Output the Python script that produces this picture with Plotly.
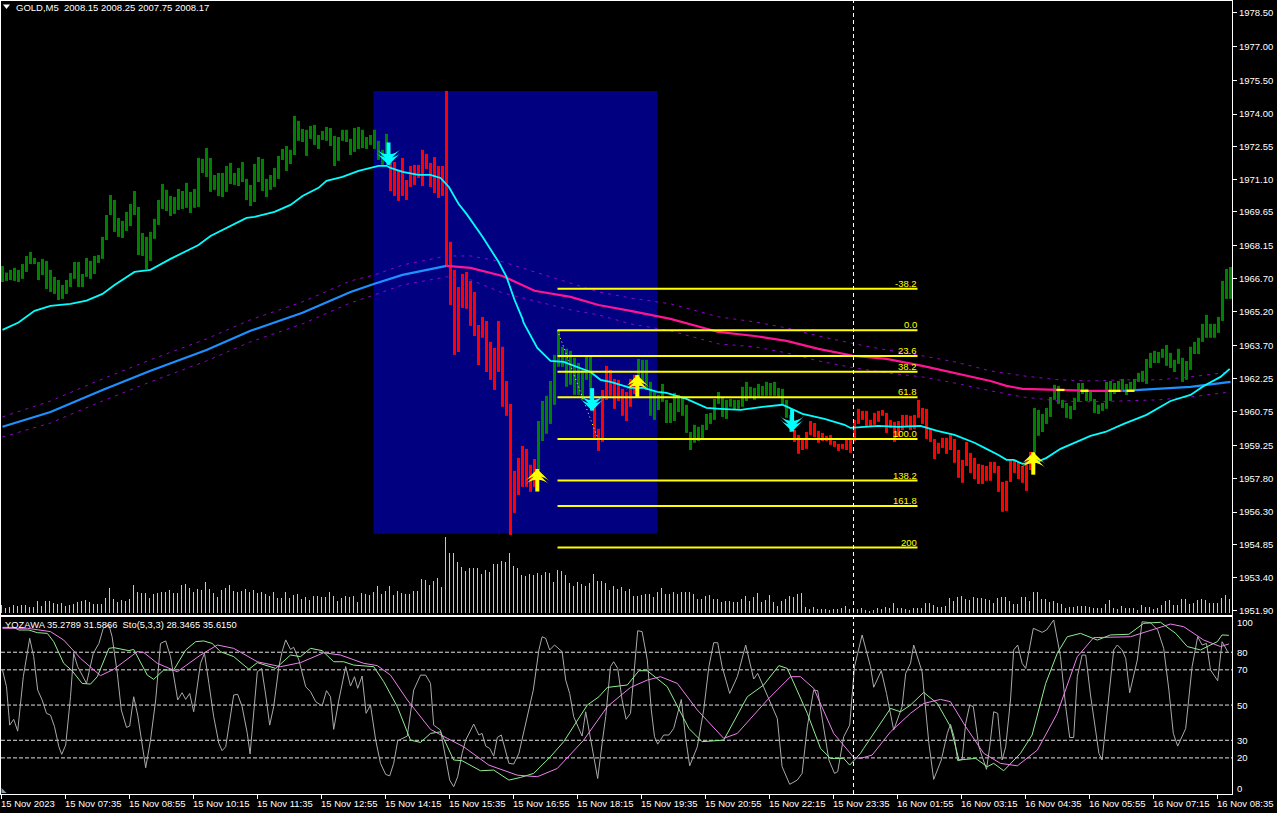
import plotly.graph_objects as go

BAR_HIGH = [1967.24,1966.95,1967.07,1967.16,1967.07,1967.33,1967.69,1967.87,1967.60,1967.42,1967.56,1967.47,1967.07,1966.76,1966.62,1966.40,1966.62,1966.93,1967.42,1967.42,
1966.89,1967.60,1967.47,1967.69,1967.73,1968.54,1969.51,1970.40,1970.18,1969.38,1969.25,1969.65,1970.00,1970.58,1969.87,1968.71,1968.54,1968.76,1969.34,1970.18,
1970.89,1970.63,1970.36,1970.31,1970.67,1970.58,1970.94,1970.54,1970.67,1972.05,1972.01,1972.49,1972.05,1971.29,1971.38,1971.38,1971.69,1971.83,1971.38,1971.60,
1971.87,1971.12,1970.85,1971.78,1972.09,1972.01,1971.12,1971.29,1971.60,1972.14,1972.45,1972.58,1972.41,1973.92,1973.70,1973.34,1973.30,1973.47,1973.52,1973.07,
1973.25,1973.43,1973.38,1973.03,1972.98,1973.30,1973.30,1972.90,1973.38,1973.43,1973.30,1972.98,1973.07,1973.30,1972.81,1972.41,1973.12,
1971.87,1971.87,1971.52,1972.05,1971.07,1971.69,1971.74,1971.74,1972.41,1972.23,1971.83,1972.09,1971.69,1971.69,1975.03,
1968.32,1967.07,1966.31,1966.89,1966.98,1966.58,1966.09,1964.62,1964.98,1964.80,1963.87,1963.60,1964.80,1963.65,1962.13,1961.11,1958.13,1958.71,1959.24,1959.11,1958.40,1958.66,
1960.35,1961.24,1961.47,1962.13,1963.29,1964.36,1963.65,1963.56,1963.47,1963.16,1962.93,1962.62,1963.20,1963.20,
1961.15,1960.00,1961.73,1962.80,1962.62,1962.22,1962.18,1961.78,1961.64,1962.22,1962.40,
1963.11,1963.07,1963.07,1962.09,1961.64,1961.51,1962.00,1961.29,1961.15,1961.60,1961.51,1961.42,1961.07,1959.86,1960.18,1960.09,1960.18,1960.66,1960.71,1961.33,1961.64,1961.38,1961.29,1961.33,
1961.29,1961.29,1961.87,1962.09,1961.87,1961.82,1962.00,1961.91,1962.09,1962.04,1962.09,1961.82,1961.78,1961.29,1960.62,
1959.95,1959.73,1959.51,1959.86,1960.35,1960.26,1959.91,1959.82,1959.69,1959.73,1959.46,1959.33,1959.33,1959.51,1959.51,1960.40,1960.89,1960.80,1960.80,1960.40,1960.71,1960.80,1960.84,1960.71,1960.40,
1960.31,1960.35,1960.62,1960.62,1960.58,1960.62,1961.29,1960.93,1960.89,1960.00,1959.55,1959.38,1959.60,1959.60,1959.73,1959.55,1959.06,1958.62,1959.42,1958.93,1958.71,1958.44,1958.40,1958.35,1958.53,1958.53,1958.35,
1957.64,1957.69,1958.62,1958.62,1958.53,1958.35,1958.62,1958.97,
1960.93,1960.84,1960.66,1960.93,1961.42,1961.96,1961.91,1961.29,1961.15,1961.02,1961.38,1962.04,1962.04,1961.78,1961.69,1961.33,1961.07,1961.15,1962.09,1962.13,1962.04,1962.13,1962.22,1962.00,1962.09,1962.22,
1962.49,1962.58,1963.11,1963.38,1963.47,1963.42,1963.56,1963.73,1963.38,1963.07,1963.56,1963.16,1963.02,1963.65,1963.87,1964.05,1964.67,1965.07,1964.67,1964.67,1964.98,1966.58,1967.11,1967.20]

BAR_LOW = [1966.53,1966.58,1966.62,1966.58,1966.53,1966.67,1966.98,1967.33,1967.33,1966.62,1966.84,1966.22,1966.09,1966.00,1965.73,1965.78,1966.00,1966.31,1966.67,1966.31,
1966.31,1966.76,1966.67,1966.89,1967.38,1967.56,1968.40,1969.51,1968.76,1968.54,1968.49,1968.80,1969.02,1969.51,1967.73,1967.69,1967.11,1967.47,1968.45,1969.07,
1969.78,1969.69,1969.47,1969.56,1969.74,1969.78,1969.83,1969.60,1969.83,1969.87,1971.38,1971.20,1970.54,1970.63,1970.36,1970.31,1970.54,1970.89,1970.85,1970.80,
1970.98,1970.18,1969.91,1970.09,1970.98,1970.58,1970.31,1970.63,1970.76,1971.12,1971.96,1971.47,1971.78,1972.18,1972.81,1972.76,1972.14,1972.90,1972.63,1972.45,
1972.85,1972.81,1972.58,1971.69,1971.92,1972.81,1972.76,1972.18,1972.32,1972.45,1972.49,1972.45,1972.63,1972.45,1971.96,1971.74,1971.96,
1970.58,1970.36,1970.14,1970.36,1970.18,1970.76,1970.85,1971.16,1970.80,1971.56,1970.76,1970.49,1970.27,1970.36,1967.22,
1965.51,1963.29,1963.42,1965.38,1965.34,1964.58,1964.13,1962.84,1964.05,1962.53,1962.18,1961.73,1962.53,1960.98,1960.58,1955.28,1956.26,1957.06,1957.42,1957.42,1957.20,1957.42,
1958.17,1959.46,1959.78,1960.22,1961.07,1962.76,1962.76,1961.87,1961.96,1961.51,1961.51,1961.29,1962.18,1961.29,
1959.60,1959.02,1959.42,1961.29,1961.47,1960.89,1961.24,1960.58,1960.35,1960.98,1961.55,
1961.96,1961.96,1961.73,1960.58,1960.40,1960.84,1961.20,1960.26,1960.26,1960.35,1960.75,1960.58,1959.82,1959.06,1959.38,1959.46,1959.55,1959.95,1960.22,1960.40,1961.11,1960.53,1960.44,1960.98,
1960.84,1960.89,1960.98,1961.24,1961.42,1961.29,1961.42,1961.47,1961.47,1961.47,1961.47,1961.42,1961.11,1960.49,1959.86,
1959.42,1958.89,1959.06,1959.11,1959.73,1959.64,1959.38,1959.46,1959.46,1959.29,1959.20,1959.02,1959.11,1959.06,1958.93,1959.46,1960.22,1960.40,1960.13,1960.13,1960.18,1960.31,1960.58,1959.82,1960.04,
1959.42,1959.64,1959.95,1960.09,1959.95,1960.00,1960.49,1960.22,1959.55,1959.42,1958.66,1958.89,1959.15,1958.89,1959.06,1958.49,1957.82,1957.60,1958.35,1958.04,1957.77,1957.55,1957.55,1957.69,1957.69,1958.04,1957.20,
1956.31,1956.35,1957.64,1958.04,1957.77,1957.60,1957.24,1958.17,
1958.97,1959.69,1959.86,1960.22,1960.53,1961.29,1961.11,1960.93,1960.49,1960.44,1960.84,1961.20,1961.55,1961.24,1961.24,1960.71,1960.66,1960.80,1960.89,1961.24,1961.55,1961.69,1961.73,1961.51,1961.69,1961.73,
1962.09,1962.09,1962.00,1962.71,1962.93,1962.93,1963.16,1962.80,1962.71,1962.53,1962.89,1962.09,1962.18,1962.62,1963.33,1963.33,1963.87,1964.05,1964.05,1964.05,1964.27,1964.80,1965.78,1965.78]

GREEN_RUNS = [(0, 96), (134, 147), (159, 197), (258, 307)]

VOLUME = [8,5,6,8,7,8,8,6,6,12,7,12,12,10,9,10,7,8,9,11,12,13,11,9,9,9,15,25,14,11,13,12,14,28,21,20,20,15,19,20,21,21,23,20,20,28,29,25,21,24,23,31,24,20,16,23,25,28,22,21,
22,24,21,23,20,21,19,17,21,15,15,21,15,18,19,14,16,13,17,17,16,16,21,17,12,15,17,16,17,11,20,19,18,21,27,19,22,27,18,22,20,19,19,22,22,
34,33,28,32,35,26,76,60,60,51,46,42,45,45,45,39,43,41,49,49,52,51,60,47,45,38,37,39,38,40,38,41,40,31,43,42,38,30,27,31,29,27,30,39,32,32,30,23,27,24,26,22,24,17,17,18,19,19,16,21,25,19,19,21,19,21,21,21,19,14,14,17,18,14,14,11,12,12,11,11,14,17,12,16,20,11,13,18,11,7,12,14,17,16,19,20,6,4,6,4,4,4,3,
4,4,5,7,4,5,4,5,3,2,3,5,4,6,5,10,5,5,4,3,5,5,5,10,10,8,6,6,7,15,12,16,17,14,13,16,15,15,14,13,10,15,16,16,12,9,9,16,16,12,21,21,14,14,11,12,10,9,5,6,6,7,7,7,6,5,5,5,9,13,5,4,7,5,5,5,3,8,6,6,4,5,8,12,13,8,8,14,14,9,10,13,14,13,10,10,10,15,18,14]

FAST_X = [0,4,8,12,17,21,25,28,33,37,42,47,49,52,57,61,63,68,72,75,79,81,85,89,94,96,97,100,104,107,109.5,111.6,114,116,120,124,126,128,130,130.3,133.7,137,140.3,144.5,147,149.5,152,157,160.3,163.7,166,171,176,179.5,184.5,190,195,200,205.5,210.5,212,219,224,229.5,233.7,238,243,246,249,251,252.8,255,258.7,261,264.5,272,275.7,280.3,286,292,297,300.3,304.5,306.8]
FAST_Y = [1964.40,1964.73,1965.25,1965.47,1965.56,1965.70,1966.00,1966.40,1966.98,1967.07,1967.56,1968.00,1968.18,1968.58,1969.03,1969.38,1969.43,1969.65,1969.96,1970.36,1970.72,1971.03,1971.21,1971.47,1971.70,1971.70,1971.61,1971.43,1971.30,1971.30,1971.16,1970.76,1970.01,1969.56,1968.54,1967.43,1966.76,1965.74,1964.89,1964.71,1963.60,1963.02,1962.98,1962.71,1962.53,1962.18,1962.09,1961.82,1961.82,1961.64,1961.60,1961.33,1960.93,1960.89,1960.84,1960.98,1961.07,1960.67,1960.44,1960.18,1960.04,1960.13,1960.09,1960.13,1959.91,1959.73,1959.38,1959.11,1958.84,1958.62,1958.62,1958.44,1958.53,1958.71,1959.11,1959.69,1959.86,1960.22,1960.62,1961.24,1961.51,1961.91,1962.31,1962.67]

SLOW_X = [0,12,25,37,51,62,75,87,93,100,111,117,125,133,142,149,157,167,179,188,196,204,213,221,230,238,247,251,255,264,272,280,289,297,307]
SLOW_Y = [1960.09,1960.75,1961.73,1962.58,1963.51,1964.36,1965.16,1966.09,1966.45,1966.85,1967.25,1967.16,1966.80,1966.14,1965.87,1965.51,1965.25,1964.89,1964.31,1964.13,1963.91,1963.56,1963.24,1963.11,1962.80,1962.49,1962.13,1961.91,1961.78,1961.73,1961.69,1961.69,1961.78,1961.87,1962.09]
SLOW_PINK_FROM, SLOW_PINK_TO = 111, 280
FLAT_X = [263.5,265.5,None,269.5,271.5,None,276.5,279.5,None,281,283]
FLAT_Y = [1961.73,1961.73,None,1961.69,1961.69,None,1961.69,1961.69,None,1961.69,1961.69]

ENV_X = [0,12,25,37,51,62,75,87,93,100,111,117,125,133,142,149,157,167,179,188,196,204,213,221,230,238,247,255,264,272,280,289,297,307]
ENV_UP = [1960.53,1961.24,1962.22,1963.07,1964.00,1964.85,1965.65,1966.58,1966.85,1967.29,1967.69,1967.69,1967.43,1966.98,1966.45,1966.09,1965.82,1965.56,1964.98,1964.76,1964.49,1964.13,1963.78,1963.51,1963.25,1962.98,1962.58,1962.36,1962.18,1962.13,1962.18,1962.18,1962.31,1962.53]
ENV_DN = [1959.64,1960.26,1961.24,1962.09,1963.02,1963.87,1964.67,1965.60,1965.96,1966.40,1966.76,1966.63,1966.05,1965.69,1965.29,1965.07,1964.67,1964.36,1963.78,1963.65,1963.38,1963.02,1962.71,1962.49,1962.31,1962.04,1961.69,1961.42,1961.24,1961.20,1961.24,1961.29,1961.42,1961.64]

BOX_X = [92.75, 163.75]
BOX_Y = [1955.33, 1975.03]
FIB_X = [138.75, 228.75]
FIB_LABELS = ["-38.2","0.0","23.6","38.2","61.8","100.0","138.2","161.8","200"]
FIB_PRICES = [1966.23,1964.38,1963.24,1962.54,1961.40,1959.55,1957.70,1956.57,1954.72]
FIB_TREND_X = [138.75, 148.75]
FIB_TREND_Y = [1964.38, 1959.60]
CROSS_X = 212.75

DOWN_X = [96.5, 147.4, 197.4]
DOWN_Y = [1971.74, 1960.81, 1959.88]
UP_X = [133.7, 158.7, 257.7]
UP_Y = [1958.21, 1962.39, 1958.96]

K_X = [0,1,1.8,2.8,3.8,5.2,6.8,7.8,8.8,9.9,11,12,13,14.1,14.8,15.8,17,17.8,18.8,21,22.7,24.1,25.2,26.6,27.4,28.7,29.7,31,31.8,32.8,33.8,34.9,35.8,37,38.3,39.5,40.8,42,43.8,44.9,45.8,46.8,47.8,49.5,50.5,51.6,52.8,54.1,54.9,55.8,57,57.8,58.8,59.9,61.2,61.9,63.7,64.8,65.8,66.8,67.8,69.1,69.9,70.8,72,72.8,74.1,75.8,77,78.3,79.9,81,82,82.8,84.1,85.8,87,88,88.8,89.9,90.9,92,93.3,94.5,95.8,96.8,97.8,98.8,101.2,102.8,104.5,105.8,
107,107.8,109.5,110.8,111.8,112.8,113.8,114.9,115.8,117.8,119.1,119.9,120.8,121.8,122.8,123.7,124.7,126.6,127.8,129.1,131.2,132.7,134.1,134.9,135.8,136.8,138,139.9,140.8,141.8,142.8,144.9,145.8,147,147.8,148.8,149.9,150.8,152,152.8,153.8,154.9,155.9,157,158.8,159.9,161.2,162.2,163,163.8,165.3,166.6,167.8,169.7,170.8,171.8,173.7,175.3,176.6,177.8,178.8,179.9,181.8,183.7,185.8,187.8,188.8,190.3,193.7,194.9,196.8,198.7,199.9,201.2,202.8,203.8,205.3,206.6,208,208.8,210.3,211.8,213,
214.9,217,217.8,219.7,221,222.8,224.9,225.8,227,227.8,229.9,231.6,232.8,234.7,236.2,237,238,238.8,239.9,240.8,241.8,242.7,244.1,246,246.8,247.8,248.8,249.9,250.8,252,252.8,253.8,254.9,255.8,257.7,259.9,261,262.8,264.5,265.8,266.8,267.8,268.7,269.9,270.8,272,274.1,274.9,276.6,277.8,278.7,279.9,280.8,281.8,283.7,284.9,287,288.8,290.3,291.6,292.7,293.8,295.8,297.4,298.8,299.9,301,302,303.8,304.9,306.3]
K_Y = [69.9,60.4,38.6,41.9,35.2,66.1,87.9,77.5,58.5,52.9,45.3,44.3,37.7,26.3,22.0,27.3,54.7,79.4,71.8,62.3,79.4,85.0,93.6,95.5,88.8,68.0,47.2,37.3,38.1,54.7,44.3,26.3,14.4,30.1,52.9,85.0,86.4,77.5,52.9,57.0,53.2,56.6,46.2,73.7,79.4,62.3,43.4,28.2,24.1,26.3,45.3,55.7,56.1,49.1,33.9,22.2,68.9,70.8,55.7,38.6,49.1,71.8,80.3,87.0,81.6,82.8,75.6,60.4,57.6,51.9,49.5,58.2,54.7,36.2,52.9,71.8,60.8,66.1,59.5,66.5,45.3,50.0,30.1,16.9,10.6,9.8,16.9,29.7,32.4,58.5,67.0,67.0,
62.3,38.6,35.8,20.7,7.4,3.6,9.3,22.6,30.1,39.2,33.0,33.9,26.7,25.4,21.0,31.6,33.0,16.9,16.5,22.6,43.4,58.5,81.3,88.8,87.9,81.3,84.1,80.3,64.2,56.6,43.4,32.4,46.2,31.1,22.6,8.3,28.2,43.4,71.8,74.6,70.8,52.9,41.9,45.3,92.2,91.7,75.6,47.2,32.0,27.8,33.0,33.0,36.7,53.2,31.1,15.5,26.3,47.2,71.8,85.4,85.4,71.8,56.6,66.1,84.1,64.8,68.0,60.4,42.4,15.0,5.0,7.4,11.2,37.7,58.5,58.2,37.7,18.8,11.2,12.2,32.0,38.6,71.8,
89.8,71.8,60.1,69.5,56.6,35.8,49.1,68.0,73.7,84.1,68.9,28.2,7.8,18.8,33.9,39.0,31.1,18.4,19.1,39.6,50.0,49.1,26.3,13.5,26.3,46.2,45.3,18.8,26.3,52.9,81.3,84.1,73.7,70.8,93.6,91.3,92.6,98.3,77.5,49.1,31.6,31.6,66.1,78.4,78.4,55.7,22.6,18.8,56.6,81.3,84.1,81.3,76.5,57.0,75.6,97.3,96.8,92.6,82.2,58.5,33.9,26.7,36.7,71.8,88.8,84.1,85.0,69.9,63.8,86.0,80.3]

D_X = [0,2.8,4.1,6.6,8.7,11.2,12.8,15.3,17.4,19.9,22,23.7,26.6,27.8,31.6,32.8,36.2,37.8,40.3,42.8,45.8,48.3,50.3,52.4,54.5,57.8,61.6,63.7,68.3,72,74.5,77,79.9,82.8,85.3,87.8,92.8,95.3,98.7,102,104.5,107,109.5,112.8,114.9,119.5,122.8,126.6,129.5,132.8,137,140.3,146.2,149.1,151.2,156.2,159.1,161.2,166.2,171.6,174.9,180.3,186.2,190.3,194.1,196.2,201.2,204.5,207,210.3,211.8,214.5,215.3,219.9,222,224.5,227,230.3,233.7,237,239.1,243.3,246.2,247.8,250.3,254.5,257.4,260.8,263.7,266.2,269.5,273.7,277,281.6,285.3,289.5,293.3,296.2,299.5,303.7,304.9,306.6]
D_Y = [94.1,94.1,92.6,92.6,91.1,90.7,86.0,73.7,69.5,62.3,61.9,66.1,82.2,82.6,80.9,81.6,67.0,64.6,69.9,69.9,81.3,86.0,86.4,85.0,80.3,77.5,70.3,74.1,70.8,78.4,77.5,82.2,80.9,74.6,74.6,72.7,71.8,63.3,49.1,30.1,28.8,33.9,34.8,18.8,18.4,12.7,13.1,7.4,8.9,11.2,20.7,29.2,50.0,54.7,60.0,61.4,69.5,69.5,60.4,36.7,29.2,30.1,54.7,61.4,72.4,70.8,45.3,25.4,19.7,19.7,15.9,22.6,25.4,41.5,48.1,46.2,50.0,57.2,50.9,37.7,18.8,19.7,15.0,16.9,12.7,22.6,33.0,62.3,79.4,88.8,90.7,86.9,89.8,90.2,96.4,97.0,90.7,83.2,81.3,86.0,89.8,89.6]

S_X = [0,6.2,12,15.3,19.5,24.5,27.8,33.7,35.3,38.7,43.7,49.5,53.7,57.8,63.7,69.5,74.5,80.3,84.5,90.3,93.7,97,101.2,107,111.2,115.3,121.6,128.7,133.7,138.7,145.3,151.2,157,161.2,164.5,168.7,173.7,180.3,183.7,191.2,197,199.5,202.8,207.8,212.8,214.5,217.4,222,227,230.3,234.5,237,240.8,245.3,249.5,253.7,258.7,263.7,268.7,272.8,282,287,292,295.3,300.3,304.5,306.6]
S_Y = [93.6,93.6,91.7,86.9,76.5,66.7,70.3,80.3,79.9,73.7,68.9,78.4,84.1,82.2,74.6,71.8,74.1,79.7,78.4,73.7,72.4,67.0,52.9,36.2,31.1,26.3,15.9,10.2,9.3,14.0,30.1,49.1,60.0,64.2,66.1,62.3,47.2,31.1,33.9,52.9,66.1,66.1,59.5,33.9,20.3,19.7,21.6,34.8,45.3,50.9,53.2,51.9,37.7,22.6,16.9,15.5,24.4,45.3,77.5,88.3,88.8,92.6,96.0,94.5,86.9,83.2,84.7]

PRICE_TICKS = [1978.50,1977.00,1975.50,1974.00,1972.55,1971.10,1969.65,1968.15,1966.70,1965.20,1963.70,1962.25,1960.75,1959.25,1957.80,1956.30,1954.85,1953.40,1951.90]
LEVEL_TICKS = [100,80,70,50,30,20,0]
DASHED_LEVELS = [80,70,50,30,20]
TIME_LABELS = ["15 Nov 2023","15 Nov 07:35","15 Nov 08:55","15 Nov 10:15","15 Nov 11:35","15 Nov 12:55","15 Nov 14:15","15 Nov 15:35","15 Nov 16:55","15 Nov 18:15","15 Nov 19:35","15 Nov 20:55","15 Nov 22:15","15 Nov 23:35","16 Nov 01:55","16 Nov 03:15","16 Nov 04:35","16 Nov 05:55","16 Nov 07:15","16 Nov 08:35"]
TITLE_MAIN = "GOLD,M5  2008.15 2008.25 2007.75 2008.17"
TITLE_SUB = "YOZAWA 35.2789 31.5866  Sto(5,3,3) 28.3465 35.6150"

W, H = 1277, 813
FONT = "Liberation Sans"
GREEN, RED = "#008000", "#ff0000"
idx = list(range(len(BAR_HIGH)))
green_set = {i for a, b in GREEN_RUNS for i in range(a, b + 1)}

fig = go.Figure()

def stems(xs, lows, highs, color, width, ya):
    px, py = [], []
    for x, l, h in zip(xs, lows, highs):
        px += [x, x, None]
        py += [l, h, None]
    fig.add_trace(go.Scatter(x=px, y=py, mode="lines", line=dict(color=color, width=width), xaxis="x", yaxis=ya,
                             showlegend=False, hoverinfo="skip", connectgaps=False))

# volume: 1px stems on the left column of each bar slot
stems([i - 0.25 for i in range(len(VOLUME))], [0] * len(VOLUME), VOLUME, "#98e898", 1, "y3")
# price bars: 3px stems
for col, keep in ((GREEN, lambda i: i in green_set), (RED, lambda i: i not in green_set)):
    sel = [i for i in idx if keep(i)]
    stems(sel, [BAR_LOW[i] for i in sel], [BAR_HIGH[i] for i in sel], col, 3, "y")

def line(x, y, color, width, dash="solid", xa="x", ya="y"):
    fig.add_trace(go.Scatter(x=x, y=y, mode="lines", line=dict(color=color, width=width, dash=dash),
                             xaxis=xa, yaxis=ya, showlegend=False, hoverinfo="skip", connectgaps=False))

PURPLE = "#9400d3"
line(ENV_X, ENV_UP, PURPLE, 1, "3px,5px")
line(ENV_X, ENV_DN, PURPLE, 1, "3px,5px")

a = [j for j, v in enumerate(SLOW_X) if v <= SLOW_PINK_FROM]
b = [j for j, v in enumerate(SLOW_X) if SLOW_PINK_FROM <= v <= SLOW_PINK_TO]
c = [j for j, v in enumerate(SLOW_X) if v >= SLOW_PINK_TO]
for seg, col in ((a, "#1e90ff"), (b, "#ff1493"), (c, "#1e90ff")):
    line([SLOW_X[j] for j in seg], [SLOW_Y[j] for j in seg], col, 2.2)
line(FLAT_X, FLAT_Y, "#ffff00", 2.2)
line(FAST_X, FAST_Y, "#00ffff", 1.8)
line(FIB_TREND_X, FIB_TREND_Y, "#ffff66", 1, "1px,3px")
for p in FIB_PRICES:
    line(FIB_X, [p, p], "#ffff00", 2)

def arrows(xs, ys, color, down):
    sign = 1 if down else -1
    stem = [y + sign * 0.50 for y in ys]
    fig.add_trace(go.Scatter(x=xs, y=stem, mode="markers", xaxis="x", yaxis="y", showlegend=False, hoverinfo="skip",
                             marker=dict(symbol="line-ns", size=16, color=color, line=dict(color=color, width=4))))
    for off in (0.0, 0.16):
        fig.add_trace(go.Scatter(x=xs, y=[y + sign * off for y in ys], mode="markers", xaxis="x", yaxis="y",
                                 showlegend=False, hoverinfo="skip",
                                 marker=dict(symbol="arrow-wide", size=17, color=color, angle=180 if down else 0,
                                             line=dict(width=0))))
arrows(DOWN_X, DOWN_Y, "#00ffff", True)
arrows(UP_X, UP_Y, "#ffff00", False)

line(K_X, K_Y, "#a9a9a9", 1, xa="x2", ya="y2")
line(D_X, D_Y, "#90ee90", 1, xa="x2", ya="y2")
line(S_X, S_Y, "#ee82ee", 1, xa="x2", ya="y2")

shapes = [
    dict(type="rect", layer="below", xref="x", yref="y", x0=BOX_X[0], x1=BOX_X[1], y0=BOX_Y[0], y1=BOX_Y[1],
         fillcolor="#000080", line_width=0),
    dict(type="line", xref="x", yref="paper", x0=CROSS_X, x1=CROSS_X, y0=1 - 794 / H, y1=1 - 1 / H,
         line=dict(color="#ffffff", width=1, dash="4px,3px")),
    dict(type="path", xref="paper", yref="paper",
         path=f"M {3/W} {1-4.5/H} L {10/W} {1-4.5/H} L {6.5/W} {1-9/H} Z", fillcolor="#ffffff", line_width=0),
    dict(type="path", xref="paper", yref="paper",
         path=f"M {1.5/W} {1-788/H} L {6.5/W} {1-793/H} L {1.5/W} {1-793/H} Z", fillcolor="#8f9fa8", line_width=0),
]
for v in DASHED_LEVELS:
    shapes.append(dict(type="line", xref="x2 domain", yref="y2", x0=0, x1=1, y0=v, y1=v,
                       line=dict(color="#e0e0e0", width=1, dash="4px,2px"), layer="below"))

ann = []
def text(x, y, s, color="#ffffff", size=9.5, xanchor="left", yanchor="middle", xref="paper", yref="paper", yshift=0):
    ann.append(dict(x=x, y=y, text=s, xref=xref, yref=yref, xanchor=xanchor, yanchor=yanchor, showarrow=False,
                    font=dict(family=FONT, size=size, color=color), yshift=yshift, borderpad=0, borderwidth=0))
text(16 / W, 1 - 7.5 / H, TITLE_MAIN.replace("  ", "&nbsp;&nbsp;"))
text(5 / W, 1 - 624.5 / H, TITLE_SUB.replace("  ", "&nbsp;&nbsp;"), size=9.4)
for lbl, p in zip(FIB_LABELS, FIB_PRICES):
    text(228.5, p, lbl, color="#ffff00", xanchor="right", yanchor="bottom", xref="x", yref="y")
for k, lbl in enumerate(TIME_LABELS):
    text(16 * k - 0.375, 1 - 803 / H, lbl, xref="x2")
for v in LEVEL_TICKS:
    shift = -5 if v == 100 else (5 if v == 0 else 0)
    text(1237 / W, v, str(v), yref="y2", yshift=shift)

x_range = [-0.375, 307.375]
fig.update_layout(
    width=W, height=H, margin=dict(l=0, r=0, t=0, b=0),
    paper_bgcolor="#000000", plot_bgcolor="#000000",
    showlegend=False, hovermode=False, shapes=shapes, annotations=ann,
    font=dict(family=FONT, size=9.5, color="#ffffff"),
    xaxis=dict(domain=[1 / W, 1232 / W], range=x_range, showgrid=False, zeroline=False, showticklabels=False,
               ticks="", showline=True, linecolor="#ffffff", linewidth=1, mirror=True, anchor="y"),
    yaxis=dict(domain=[1 - 615 / H, 1 - 1 / H], range=[1951.72, 1979.03], side="right", anchor="x",
               tickvals=PRICE_TICKS, ticktext=[f"{t:.2f}" for t in PRICE_TICKS], ticks="outside", ticklen=4,
               tickcolor="#ffffff", tickfont=dict(family=FONT, size=9.5, color="#ffffff"),
               showgrid=False, zeroline=False, showline=True, linecolor="#ffffff", linewidth=1, mirror=True),
    yaxis3=dict(domain=[1 - 615 / H, 1 - 1 / H], range=[-2, 612], overlaying="y", visible=False, anchor="x"),
    xaxis2=dict(domain=[1 / W, 1232 / W], range=x_range, showgrid=False, zeroline=False, anchor="y2",
                tickvals=[16 * k - 0.375 for k in range(len(TIME_LABELS))], ticktext=[""] * len(TIME_LABELS),
                ticks="outside", ticklen=4, tickcolor="#ffffff",
                showline=True, linecolor="#ffffff", linewidth=1, mirror=True),
    yaxis2=dict(domain=[1 - 794 / H, 1 - 617 / H], range=[-0.5, 100], side="right", anchor="x2",
                showticklabels=False, ticks="", showgrid=False, zeroline=False,
                showline=True, linecolor="#ffffff", linewidth=1, mirror=True),
)
fig.write_html("out.html", config={"displayModeBar": False},
               post_script="document.body.style.margin='0';document.body.style.overflow='hidden';document.body.style.background='#000';")
